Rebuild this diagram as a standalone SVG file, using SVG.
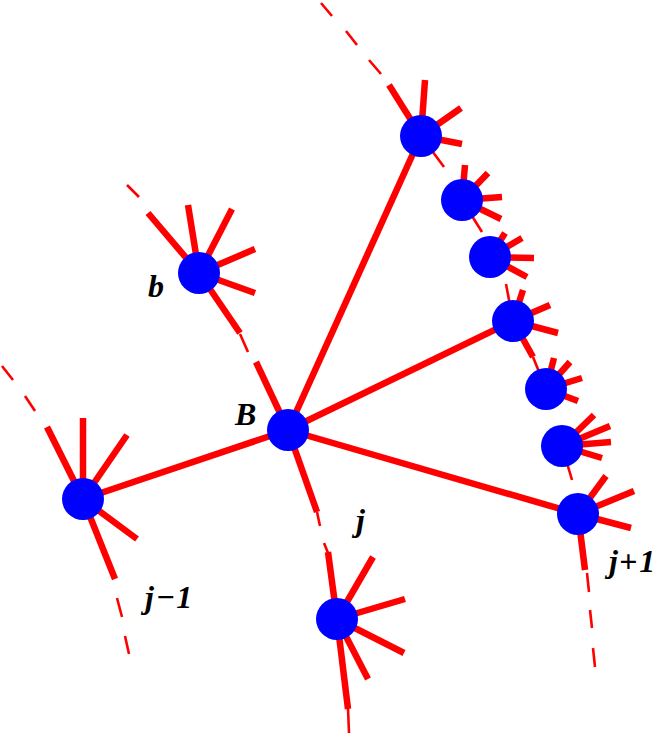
<svg xmlns="http://www.w3.org/2000/svg" width="664" height="734" viewBox="0 0 664 734">
<style>
.bg{fill:#ffffff}
.edge{stroke:#ff0000;stroke-width:6.5;fill:none}
.sp{stroke:#ff0000;stroke-width:6.5;fill:none}
.thin{stroke:#ff0000;stroke-width:2.6;fill:none}
.node{fill:#0000ff}
.lbl{font-family:"Liberation Serif","Times New Roman",serif;font-weight:bold;font-style:italic;font-size:32px;fill:#000000}
</style>
<rect class="bg" x="0" y="0" width="664" height="734"/>
<g id="connectors">
<line class="edge" x1="288" y1="430" x2="421" y2="136"/>
<line class="edge" x1="288" y1="430" x2="513" y2="321"/>
<line class="edge" x1="288" y1="430" x2="578" y2="514"/>
<line class="edge" x1="288" y1="430" x2="83" y2="499"/>
</g>
<g id="chains">
<line class="thin" x1="321" y1="3" x2="332" y2="16"/>
<line class="thin" x1="346" y1="31" x2="357" y2="45"/>
<line class="thin" x1="369" y1="60" x2="381" y2="74"/>
<line class="thin" x1="421" y1="136" x2="444" y2="167"/>
<line class="thin" x1="462" y1="200" x2="482" y2="232"/>
<line class="thin" x1="506" y1="284" x2="513" y2="321"/>
<line class="thin" x1="533" y1="357" x2="546" y2="389"/>
<line class="thin" x1="562" y1="446" x2="572" y2="480"/>
<line class="thin" x1="587" y1="573" x2="589" y2="592"/>
<line class="thin" x1="590" y1="610" x2="592" y2="628"/>
<line class="thin" x1="593" y1="648" x2="595" y2="667"/>
<line class="thin" x1="2" y1="366" x2="13" y2="380"/>
<line class="thin" x1="25" y1="396" x2="35" y2="411"/>
<line class="thin" x1="117" y1="598" x2="122" y2="617"/>
<line class="thin" x1="125" y1="636" x2="129" y2="654"/>
<line class="thin" x1="127" y1="185" x2="139" y2="197"/>
<line class="thin" x1="240" y1="334" x2="248" y2="352"/>
<line class="thin" x1="317" y1="512" x2="320" y2="526"/>
<line class="thin" x1="324" y1="543" x2="328" y2="553"/>
<line class="thin" x1="348" y1="708" x2="349" y2="733"/>
</g>
<g id="node-top">
<line class="sp" x1="421" y1="136" x2="389" y2="85"/>
<line class="sp" x1="421" y1="136" x2="425" y2="80"/>
<line class="sp" x1="421" y1="136" x2="461" y2="108"/>
<line class="sp" x1="421" y1="136" x2="462" y2="144"/>
<circle class="node" cx="421" cy="136" r="21"/>
</g>
<g id="node-r2">
<line class="sp" x1="462" y1="200" x2="465" y2="165"/>
<line class="sp" x1="462" y1="200" x2="488" y2="173"/>
<line class="sp" x1="462" y1="200" x2="502" y2="197"/>
<line class="sp" x1="462" y1="200" x2="501" y2="219"/>
<circle class="node" cx="462" cy="200" r="21"/>
</g>
<g id="node-r3">
<line class="sp" x1="490" y1="257" x2="505" y2="233"/>
<line class="sp" x1="490" y1="257" x2="522" y2="238"/>
<line class="sp" x1="490" y1="257" x2="534" y2="258"/>
<line class="sp" x1="490" y1="257" x2="527" y2="277"/>
<circle class="node" cx="490" cy="257" r="21"/>
</g>
<g id="node-r4">
<line class="sp" x1="513" y1="321" x2="523" y2="290"/>
<line class="sp" x1="513" y1="321" x2="550" y2="305"/>
<line class="sp" x1="513" y1="321" x2="558" y2="333"/>
<line class="sp" x1="513" y1="321" x2="533" y2="357"/>
<circle class="node" cx="513" cy="321" r="21"/>
</g>
<g id="node-r5">
<line class="sp" x1="546" y1="389" x2="554" y2="358"/>
<line class="sp" x1="546" y1="389" x2="570" y2="362"/>
<line class="sp" x1="546" y1="389" x2="582" y2="378"/>
<line class="sp" x1="546" y1="389" x2="578" y2="401"/>
<circle class="node" cx="546" cy="389" r="21"/>
</g>
<g id="node-r6">
<line class="sp" x1="562" y1="446" x2="594" y2="415"/>
<line class="sp" x1="562" y1="446" x2="610" y2="426"/>
<line class="sp" x1="562" y1="446" x2="611" y2="442"/>
<line class="sp" x1="562" y1="446" x2="602" y2="458"/>
<circle class="node" cx="562" cy="446" r="21"/>
</g>
<g id="node-jplus1">
<line class="sp" x1="578" y1="514" x2="606" y2="476"/>
<line class="sp" x1="578" y1="514" x2="634" y2="491"/>
<line class="sp" x1="578" y1="514" x2="631" y2="528"/>
<line class="sp" x1="578" y1="514" x2="585" y2="570"/>
<circle class="node" cx="578" cy="514" r="21"/>
</g>
<g id="node-jminus1">
<line class="sp" x1="83" y1="499" x2="47" y2="427"/>
<line class="sp" x1="83" y1="499" x2="83" y2="418"/>
<line class="sp" x1="83" y1="499" x2="127" y2="435"/>
<line class="sp" x1="83" y1="499" x2="137" y2="539"/>
<line class="sp" x1="83" y1="499" x2="115" y2="579"/>
<circle class="node" cx="83" cy="499" r="21"/>
</g>
<g id="node-b">
<line class="sp" x1="199" y1="273" x2="148" y2="213"/>
<line class="sp" x1="199" y1="273" x2="188" y2="205"/>
<line class="sp" x1="199" y1="273" x2="232" y2="209"/>
<line class="sp" x1="199" y1="273" x2="255" y2="249"/>
<line class="sp" x1="199" y1="273" x2="255" y2="293"/>
<line class="sp" x1="199" y1="273" x2="240" y2="333"/>
<circle class="node" cx="199" cy="273" r="21"/>
</g>
<g id="node-B">
<line class="sp" x1="288" y1="430" x2="256" y2="362"/>
<line class="sp" x1="288" y1="430" x2="317" y2="512"/>
<circle class="node" cx="288" cy="430" r="21"/>
</g>
<g id="node-j">
<line class="sp" x1="337" y1="619" x2="328" y2="552"/>
<line class="sp" x1="337" y1="619" x2="373" y2="557"/>
<line class="sp" x1="337" y1="619" x2="405" y2="599"/>
<line class="sp" x1="337" y1="619" x2="404" y2="653"/>
<line class="sp" x1="337" y1="619" x2="368" y2="679"/>
<line class="sp" x1="337" y1="619" x2="348" y2="709"/>
<circle class="node" cx="337" cy="619" r="21"/>
</g>
<g id="labels">
<text class="lbl" x="148" y="297">b</text>
<text class="lbl" x="235" y="425">B</text>
<text class="lbl" x="356" y="531">j</text>
<text class="lbl" x="145" y="608">j<tspan dx="2">−</tspan><tspan dx="1">1</tspan></text>
<text class="lbl" x="609" y="572">j<tspan dx="1">+</tspan><tspan dx="2">1</tspan></text>
</g>
</svg>
